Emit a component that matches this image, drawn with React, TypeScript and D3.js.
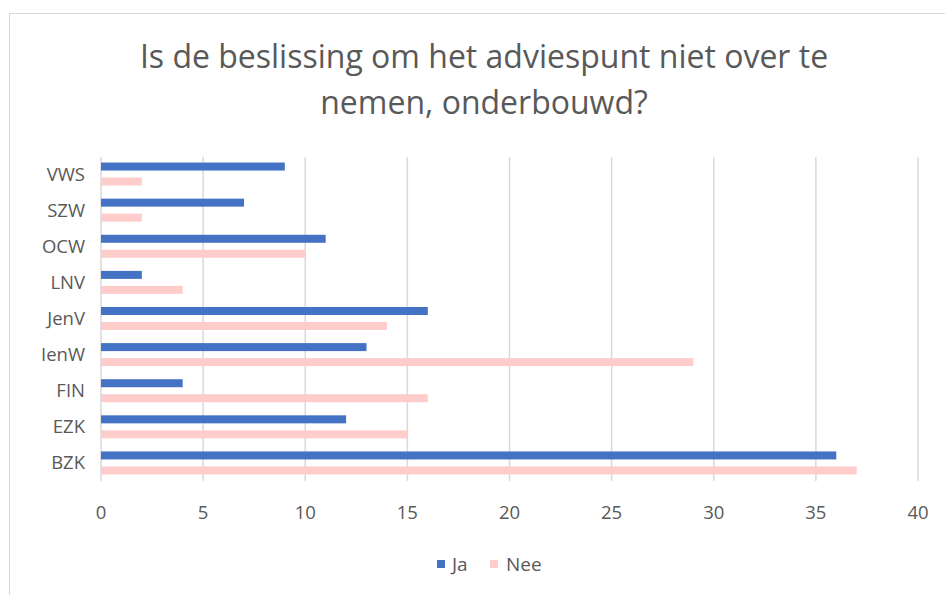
import React from "react";
import * as d3 from "d3";

const categories = ["VWS", "SZW", "OCW", "LNV", "JenV", "IenW", "FIN", "EZK", "BZK"];
const seriesNames = ["Ja", "Nee"];
const jaValues = [9, 7, 11, 2, 16, 13, 4, 12, 36];
const neeValues = [2, 2, 10, 4, 14, 29, 16, 15, 37];
const xTicks = [0, 5, 10, 15, 20, 25, 30, 35, 40];
const titleLines = ["Is de beslissing om het adviespunt niet over te", "nemen, onderbouwd?"];
const colors = ["#4472C4", "#FFCCCC"];

const W = 945;
const H = 595;
const FONT = "'Open Sans', 'Noto Sans', sans-serif";
const TXT = "#595959";

export default function App() {
  const x = d3.scaleLinear().domain([0, 40]).range([101, 918]);
  const y = d3.scaleBand().domain(categories).range([156, 481]).paddingInner(0).paddingOuter(0);
  const inner = d3
    .scaleBand()
    .domain(seriesNames)
    .range([0, y.bandwidth()])
    .paddingInner(0.467)
    .paddingOuter(0.437);
  const values = [jaValues, neeValues];

  return (
    <svg
      width={W}
      height={H}
      style={{ position: "fixed", left: 0, top: 0, background: "#fff" }}
      fontFamily={FONT}
    >
      <rect x={0} y={0} width={W} height={H} fill="#fff" />
      <rect x={9.5} y={13.5} width={W + 10} height={H} fill="#fff" stroke="#D9D9D9" strokeWidth={1} />
      {titleLines.map((t, i) => (
        <text key={i} x={484} y={68 + i * 46} textAnchor="middle" fontSize={32} fill={TXT}>
          {t}
        </text>
      ))}
      {xTicks.map((t) => (
        <line key={"g" + t} x1={x(t)} x2={x(t)} y1={157} y2={481} stroke="#D9D9D9" strokeWidth={1.5} />
      ))}
      {categories.map((c, ci) =>
        seriesNames.map((s, si) => (
          <rect
            key={c + s}
            x={x(0)}
            y={(y(c) as number) + (inner(s) as number)}
            width={x(values[si][ci]) - x(0)}
            height={inner.bandwidth()}
            fill={colors[si]}
          />
        ))
      )}
      {categories.map((c) => (
        <text
          key={"l" + c}
          x={85}
          y={(y(c) as number) + y.bandwidth() / 2}
          dy="0.35em"
          textAnchor="end"
          fontSize={18.5}
          fill={TXT}
        >
          {c}
        </text>
      ))}
      {xTicks.map((t) => (
        <text key={"t" + t} x={x(t)} y={519} textAnchor="middle" fontSize={18.5} fill={TXT}>
          {t}
        </text>
      ))}
      <rect x={437} y={560} width={8} height={8} fill={colors[0]} />
      <text x={452} y={571} fontSize={19} fill={TXT}>
        {seriesNames[0]}
      </text>
      <rect x={490} y={560} width={8} height={8} fill={colors[1]} />
      <text x={506} y={571} fontSize={19} fill={TXT}>
        {seriesNames[1]}
      </text>
    </svg>
  );
}
